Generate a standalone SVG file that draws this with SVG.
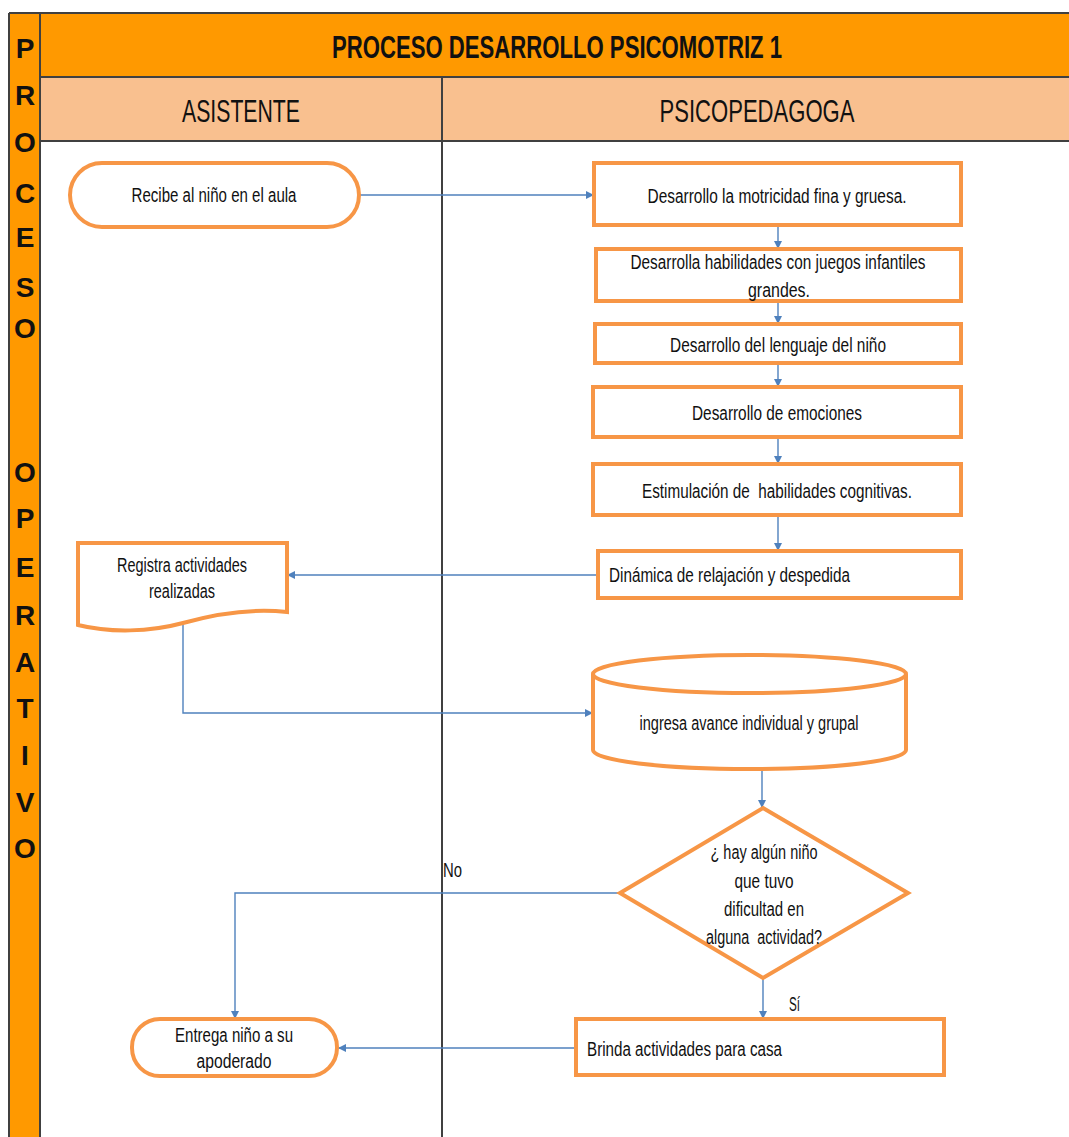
<svg xmlns="http://www.w3.org/2000/svg" width="1069" height="1137" viewBox="0 0 1069 1137">
<style>
.t{font-family:"Liberation Sans",Arial,sans-serif;font-size:20px;fill:#111;}
.c{text-anchor:middle;}
.pre{white-space:pre;}
.lane{font-family:"Liberation Sans",Arial,sans-serif;font-size:32px;fill:#111;text-anchor:middle;}
.ttl{font-family:"Liberation Sans",Arial,sans-serif;font-size:32px;font-weight:bold;fill:#111;text-anchor:middle;}
.bar{font-family:"Liberation Sans",Arial,sans-serif;font-size:28px;font-weight:bold;fill:#111;text-anchor:middle;}
.n{fill:#fff;stroke:#F79646;stroke-width:4;}
.k{fill:none;stroke:#4F81BD;stroke-width:1.4;}
.ln{stroke:#404040;stroke-width:2;fill:none;}
</style>
<defs>
<marker id="ah" viewBox="0 0 10 10" refX="10" refY="5" markerUnits="userSpaceOnUse" markerWidth="9" markerHeight="8" orient="auto">
<path d="M0,0 L10,5 L0,10 z" fill="#4F81BD"/>
</marker>
</defs>
<rect width="1069" height="1137" fill="#fff"/>
<g id="frame">
<rect x="9" y="13" width="31" height="1124" fill="#FF9900"/>
<rect x="40" y="13" width="1029" height="64" fill="#FF9900"/>
<rect x="40" y="77" width="1029" height="64" fill="#F9C08F"/>
<path class="ln" d="M9,13 H1069 M9,13 V1137 M40,13 V1137 M40,77 H1069 M40,141 H1069 M442,77 V1137"/>
<text class="ttl" x="557" y="58" textLength="450" lengthAdjust="spacingAndGlyphs">PROCESO DESARROLLO PSICOMOTRIZ 1</text>
<text class="lane" x="241" y="122" textLength="118" lengthAdjust="spacingAndGlyphs">ASISTENTE</text>
<text class="lane" x="757" y="122" textLength="195" lengthAdjust="spacingAndGlyphs">PSICOPEDAGOGA</text>
<text class="bar" x="25" y="58">P</text>
<text class="bar" x="25" y="105">R</text>
<text class="bar" x="25" y="152">O</text>
<text class="bar" x="25" y="203">C</text>
<text class="bar" x="25" y="247">E</text>
<text class="bar" x="25" y="297">S</text>
<text class="bar" x="25" y="338">O</text>
<text class="bar" x="25" y="482">O</text>
<text class="bar" x="25" y="528">P</text>
<text class="bar" x="25" y="577">E</text>
<text class="bar" x="25" y="625">R</text>
<text class="bar" x="25" y="672">A</text>
<text class="bar" x="25" y="718">T</text>
<text class="bar" x="25" y="765">I</text>
<text class="bar" x="25" y="812">V</text>
<text class="bar" x="25" y="858">O</text>
</g>
<g id="connectors">
<path class="k" marker-end="url(#ah)" d="M359,195 H594"/>
<path class="k" marker-end="url(#ah)" d="M778,225 V249"/>
<path class="k" marker-end="url(#ah)" d="M778,301 V324"/>
<path class="k" marker-end="url(#ah)" d="M778,363 V387"/>
<path class="k" marker-end="url(#ah)" d="M778,437 V464"/>
<path class="k" marker-end="url(#ah)" d="M778,515 V551"/>
<path class="k" marker-end="url(#ah)" d="M598,575 H287"/>
<path class="k" marker-end="url(#ah)" d="M183,623 V713 H593"/>
<path class="k" marker-end="url(#ah)" d="M762,770 V808"/>
<path class="k" marker-end="url(#ah)" d="M620,893 H235 V1019"/>
<path class="k" marker-end="url(#ah)" d="M763,978 V1019"/>
<path class="k" marker-end="url(#ah)" d="M576,1048 H338"/>
<text class="t" x="443" y="877" textLength="19" lengthAdjust="spacingAndGlyphs">No</text>
<text class="t" x="789" y="1011" textLength="11" lengthAdjust="spacingAndGlyphs">Sí</text>
</g>
<g id="n1">
<rect class="n" x="70" y="163" width="289" height="64" rx="32"/>
<text class="t c" x="214" y="202" textLength="165" lengthAdjust="spacingAndGlyphs">Recibe al niño en el aula</text>
</g>
<g id="n2">
<rect class="n" x="594" y="163" width="367" height="62"/>
<text class="t c" x="777" y="203" textLength="259" lengthAdjust="spacingAndGlyphs">Desarrollo la motricidad fina y gruesa.</text>
</g>
<g id="n3">
<rect class="n" x="596" y="249" width="365" height="52"/>
<text class="t c" x="778" y="269" textLength="295" lengthAdjust="spacingAndGlyphs">Desarrolla habilidades con juegos infantiles</text>
<text class="t c" x="779" y="297" textLength="62" lengthAdjust="spacingAndGlyphs">grandes.</text>
</g>
<g id="n4">
<rect class="n" x="595" y="324" width="366" height="39"/>
<text class="t c" x="778" y="352" textLength="216" lengthAdjust="spacingAndGlyphs">Desarrollo del lenguaje del niño</text>
</g>
<g id="n5">
<rect class="n" x="593" y="387" width="368" height="50"/>
<text class="t c" x="777" y="420" textLength="170" lengthAdjust="spacingAndGlyphs">Desarrollo de emociones</text>
</g>
<g id="n6">
<rect class="n" x="593" y="464" width="368" height="51"/>
<text class="t c pre" x="777" y="498" textLength="270" lengthAdjust="spacingAndGlyphs">Estimulación de  habilidades cognitivas.</text>
</g>
<g id="n7">
<rect class="n" x="598" y="551" width="363" height="47"/>
<text class="t" x="609" y="582" textLength="241" lengthAdjust="spacingAndGlyphs">Dinámica de relajación y despedida</text>
</g>
<g id="n8">
<path class="n" d="M78,543 H287 V612 C250,608 215,614 183,623 C150,632 110,633 78,625 Z"/>
<text class="t c" x="182" y="572" textLength="130" lengthAdjust="spacingAndGlyphs">Registra actividades</text>
<text class="t c" x="182" y="598" textLength="66" lengthAdjust="spacingAndGlyphs">realizadas</text>
</g>
<g id="n9">
<path class="n" d="M593,674 V750 A156.5,19 0 0 0 906,750 V674"/>
<ellipse class="n" cx="749.5" cy="674" rx="156.5" ry="19"/>
<text class="t c" x="749" y="730" textLength="219" lengthAdjust="spacingAndGlyphs">ingresa avance individual y grupal</text>
</g>
<g id="n10">
<polygon class="n" points="763,808 908,893 763,978 620,893"/>
<text class="t c" x="764" y="859" textLength="107" lengthAdjust="spacingAndGlyphs">¿ hay algún niño</text>
<text class="t c" x="764" y="888" textLength="59" lengthAdjust="spacingAndGlyphs">que tuvo</text>
<text class="t c" x="764" y="916" textLength="80" lengthAdjust="spacingAndGlyphs">dificultad en</text>
<text class="t c pre" x="764" y="944" textLength="116" lengthAdjust="spacingAndGlyphs">alguna  actividad?</text>
</g>
<g id="n11">
<rect class="n" x="576" y="1019" width="368" height="56"/>
<text class="t" x="587" y="1056" textLength="195" lengthAdjust="spacingAndGlyphs">Brinda actividades para casa</text>
</g>
<g id="n12">
<rect class="n" x="132" y="1019" width="205" height="57" rx="28"/>
<text class="t c" x="234" y="1042" textLength="118" lengthAdjust="spacingAndGlyphs">Entrega niño a su</text>
<text class="t c" x="234" y="1068" textLength="75" lengthAdjust="spacingAndGlyphs">apoderado</text>
</g>
</svg>
